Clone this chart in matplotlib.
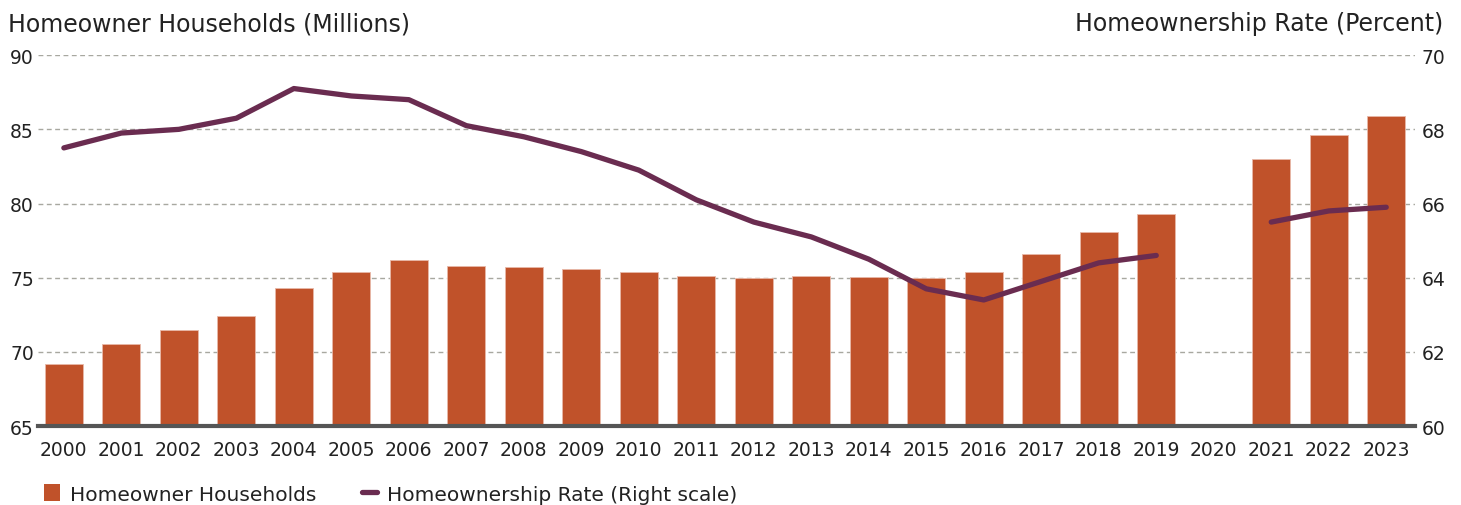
import numpy as np
import matplotlib
matplotlib.use("Agg")
import matplotlib.pyplot as plt
from matplotlib.patches import Patch
from matplotlib.lines import Line2D

plt.rcParams['font.family'] = ['DejaVu Sans']

years = [str(y) for y in range(2000, 2024)]
households = [69.2, 70.5, 71.5, 72.4, 74.3, 75.4, 76.2, 75.8, 75.7, 75.6, 75.4, 75.1,
              75.0, 75.1, 75.05, 75.0, 75.4, 76.6, 78.1, 79.3, np.nan, 83.0, 84.6, 85.9]
rate = [67.5, 67.9, 68.0, 68.3, 69.1, 68.9, 68.8, 68.1, 67.8, 67.4, 66.9, 66.1,
        65.5, 65.1, 64.5, 63.7, 63.4, 63.9, 64.4, 64.6, np.nan, 65.5, 65.8, 65.9]

bar_color = '#C0522A'
line_color = '#6A2C50'
text_color = '#222222'

fig = plt.figure(figsize=(14.61, 5.06), dpi=100)
ax = fig.add_axes([0.026, 0.156, 0.9425, 0.733])
x = np.arange(len(years))
ax.bar(x, households, width=0.66, color=bar_color, edgecolor='#E8B8A8', linewidth=0.6, zorder=3)
ax.set_ylim(65, 90)
ax.set_xlim(-0.45, 23.5)
ax.set_yticks([65, 70, 75, 80, 85, 90])
ax.grid(axis='y', color='#A8A8A0', linestyle=(0, (3.5, 2.5)), linewidth=1.0, zorder=0)
ax.set_axisbelow(True)
for s in ['top', 'right', 'left']:
    ax.spines[s].set_visible(False)
ax.spines['bottom'].set_color('#555555')
ax.spines['bottom'].set_linewidth(3)
ax.spines['bottom'].set_zorder(5)
ax.set_xticks(x)
ax.set_xticklabels(years)
ax.tick_params(axis='both', length=0, labelsize=13.5, colors=text_color)
ax.tick_params(axis='x', pad=10)
ax.tick_params(axis='y', pad=3)

ax2 = ax.twinx()
ax2.plot(x, rate, color=line_color, linewidth=3.8, solid_capstyle='round', zorder=4)
ax2.set_ylim(60, 70)
ax2.set_yticks([60, 62, 64, 66, 68, 70])
for s in ['top', 'right', 'left', 'bottom']:
    ax2.spines[s].set_visible(False)
ax2.tick_params(axis='y', length=0, labelsize=13.5, colors=text_color, pad=5)

fig.text(0.0055, 0.952, 'Homeowner Households (Millions)', fontsize=17, color=text_color,
         ha='left', va='center')
fig.text(0.988, 0.952, 'Homeownership Rate (Percent)', fontsize=17, color=text_color,
         ha='right', va='center')

handles = [Patch(facecolor=bar_color, edgecolor='none'),
           Line2D([0], [0], color=line_color, linewidth=3.8, solid_capstyle='round')]
fig.legend(handles, ['Homeowner Households', 'Homeownership Rate (Right scale)'],
           loc='center left', bbox_to_anchor=(0.018, 0.022), ncol=2, frameon=False,
           fontsize=14.5, handlelength=0.75, handleheight=0.9, handletextpad=0.5,
           columnspacing=2.3, labelcolor=text_color)

fig.savefig('out.png', dpi=100)
